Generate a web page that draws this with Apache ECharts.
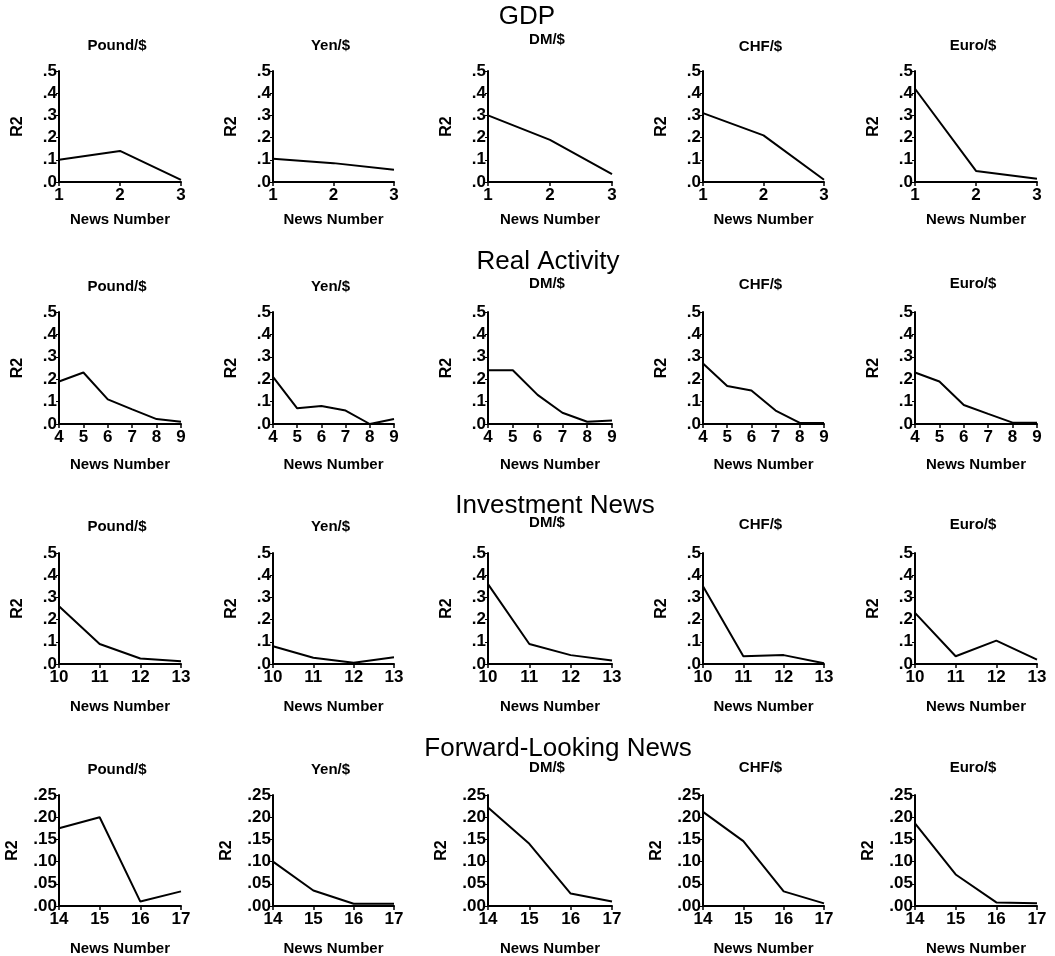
<!DOCTYPE html>
<html><head><meta charset="utf-8">
<script src="https://cdn.jsdelivr.net/npm/echarts@6/dist/echarts.min.js"></script>
<style>html,body{margin:0;padding:0;background:#fff}#c{width:1055px;height:956px}</style>
</head><body><div id="c"></div>
<script>
// ---- data ----
const sectionTitles = ['GDP', 'Real Activity', 'Investment News', 'Forward-Looking News'];
const currencies = ['Pound/$', 'Yen/$', 'DM/$', 'CHF/$', 'Euro/$'];
const newsGDP = [1, 2, 3];
const newsReal = [4, 5, 6, 7, 8, 9];
const newsInvest = [10, 11, 12, 13];
const newsForward = [14, 15, 16, 17];
const yTicksHalf = ['.0', '.1', '.2', '.3', '.4', '.5'];
const yTicksQuarter = ['.00', '.05', '.10', '.15', '.20', '.25'];

const gdpPound = [0.10, 0.14, 0.01];
const gdpYen = [0.105, 0.085, 0.055];
const gdpDM = [0.30, 0.19, 0.035];
const gdpCHF = [0.31, 0.21, 0.01];
const gdpEuro = [0.42, 0.05, 0.015];

const realPound = [0.19, 0.23, 0.11, 0.065, 0.022, 0.01];
const realYen = [0.21, 0.07, 0.08, 0.06, 0.0, 0.022];
const realDM = [0.24, 0.24, 0.13, 0.05, 0.01, 0.016];
const realCHF = [0.27, 0.17, 0.15, 0.06, 0.005, 0.005];
const realEuro = [0.23, 0.19, 0.085, 0.045, 0.006, 0.006];

const investPound = [0.26, 0.09, 0.025, 0.012];
const investYen = [0.08, 0.028, 0.006, 0.03];
const investDM = [0.36, 0.09, 0.04, 0.016];
const investCHF = [0.35, 0.035, 0.04, 0.003];
const investEuro = [0.23, 0.035, 0.105, 0.02];

const fwdPound = [0.175, 0.20, 0.01, 0.033];
const fwdYen = [0.10, 0.035, 0.005, 0.005];
const fwdDM = [0.222, 0.14, 0.028, 0.01];
const fwdCHF = [0.212, 0.146, 0.033, 0.006];
const fwdEuro = [0.186, 0.071, 0.008, 0.006];

// ---- assemble ----
const rowsX = [newsGDP, newsReal, newsInvest, newsForward];
const rowsY = [
  [gdpPound, gdpYen, gdpDM, gdpCHF, gdpEuro],
  [realPound, realYen, realDM, realCHF, realEuro],
  [investPound, investYen, investDM, investCHF, investEuro],
  [fwdPound, fwdYen, fwdDM, fwdCHF, fwdEuro]
];
const rowYMax = [0.5, 0.5, 0.5, 0.25];
const rowYInt = [0.1, 0.1, 0.1, 0.05];
const rowYLabels = [yTicksHalf, yTicksHalf, yTicksHalf, yTicksQuarter];

// ---- layout ----
const colLeft = [59, 273, 488, 703, 915];
const colRight = [181, 394, 612, 824, 1037];
const rowTop = [71, 312, 553, 795];
const rowBottom = [182, 424, 664, 906];
const titleX = [527, 548, 555, 558];
const titleY = [17, 262, 506, 749];
const subY = [[46, 46, 40, 47, 46], [287, 287, 284, 285, 284], [527, 527, 523, 525, 525], [770, 770, 768, 768, 768]];
const xNameGap = [30, 33, 35, 35];
const FONT = '"Liberation Sans", Arial, Helvetica, sans-serif';

const grids = [], xAxes = [], yAxes = [], series = [], graphics = [];
for (let r = 0; r < 4; r++) {
  graphics.push({
    type: 'text', x: titleX[r], y: titleY[r],
    style: { text: sectionTitles[r], font: 'normal 26px ' + FONT, fill: '#000', align: 'center', verticalAlign: 'middle', textAlign: 'center', textVerticalAlign: 'middle' }
  });
  for (let c = 0; c < 5; c++) {
    const i = r * 5 + c;
    const xs = rowsX[r];
    const labels = rowYLabels[r];
    const inter = rowYInt[r];
    grids.push({
      left: colLeft[c], top: rowTop[r],
      width: colRight[c] - colLeft[c], height: rowBottom[r] - rowTop[r],
      containLabel: false, outerBoundsMode: 'none'
    });
    graphics.push({
      type: 'text', x: (colLeft[c] + colRight[c]) / 2 - 3, y: subY[r][c],
      style: { text: currencies[c], font: 'bold 15px ' + FONT, fill: '#000', align: 'center', verticalAlign: 'middle', textAlign: 'center', textVerticalAlign: 'middle' }
    });
    xAxes.push({
      type: 'value', gridIndex: i, min: xs[0], max: xs[xs.length - 1], interval: 1,
      name: 'News Number', nameLocation: 'middle', nameGap: xNameGap[r],
      nameTextStyle: { fontFamily: FONT, fontSize: 15, fontWeight: 'bold', color: '#000' },
      axisLine: { show: true, onZero: false, lineStyle: { color: '#000', width: 2 } },
      axisTick: { show: true, length: 4, lineStyle: { color: '#000', width: 1.5 } },
      axisLabel: { fontFamily: FONT, fontSize: 17, fontWeight: 'bold', color: '#000', margin: 5, showMinLabel: true, showMaxLabel: true, hideOverlap: false },
      splitLine: { show: false }
    });
    yAxes.push({
      type: 'value', gridIndex: i, min: 0, max: rowYMax[r], interval: inter,
      name: 'R2', nameLocation: 'middle', nameGap: r === 3 ? 38 : 33, nameRotate: 90,
      nameTextStyle: { fontFamily: FONT, fontSize: 16, fontWeight: 'bold', color: '#000' },
      axisLine: { show: true, onZero: false, lineStyle: { color: '#000', width: 2 } },
      axisTick: { show: true, length: 3, lineStyle: { color: '#000', width: 1 } },
      axisLabel: {
        fontFamily: FONT, fontSize: 17, fontWeight: 'bold', color: '#000', margin: 2,
        showMinLabel: true, showMaxLabel: true, hideOverlap: false,
        formatter: v => labels[Math.round(v / inter)]
      },
      splitLine: { show: false }
    });
    series.push({
      type: 'line', xAxisIndex: i, yAxisIndex: i,
      data: xs.map((x, j) => [x, rowsY[r][c][j]]),
      symbol: 'none', silent: true,
      lineStyle: { color: '#000', width: 2 }
    });
  }
}

const chart = echarts.init(document.getElementById('c'), null, { renderer: 'canvas' });
chart.setOption({
  animation: false,
  backgroundColor: '#fff',
  textStyle: { fontFamily: FONT },
  grid: grids, xAxis: xAxes, yAxis: yAxes, series: series,
  graphic: graphics
});
</script>
</body></html>
